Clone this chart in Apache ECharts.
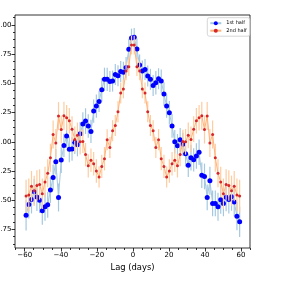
<!DOCTYPE html>
<html><head><meta charset="utf-8">
<script src="https://cdn.jsdelivr.net/npm/echarts@6/dist/echarts.min.js"></script>
<style>html,body{margin:0;padding:0;background:#fff}#c{width:281px;height:282px}</style>
</head><body><div id="c"></div>
<script>
const lags = [
 -59.25,-57.75,-56.25,-54.75,-53.25,-51.75,-50.25,-48.75,-47.25,-45.75,
 -44.25,-42.75,-41.25,-39.75,-38.25,-36.75,-35.25,-33.75,-32.25,-30.75,
 -29.25,-27.75,-26.25,-24.75,-23.25,-21.75,-20.25,-18.75,-17.25,-15.75,
 -14.25,-12.75,-11.25,-9.75,-8.25,-6.75,-5.25,-3.75,-2.25,-0.75,
 0.75,2.25,3.75,5.25,6.75,8.25,9.75,11.25,12.75,14.25,
 15.75,17.25,18.75,20.25,21.75,23.25,24.75,26.25,27.75,29.25,
 30.75,32.25,33.75,35.25,36.75,38.25,39.75,41.25,42.75,44.25,
 45.75,47.25,48.75,50.25,51.75,53.25,54.75,56.25,57.75,59.25];
const firstHalf = [
 -0.63,-0.537,-0.494,-0.428,-0.474,-0.50,-0.591,-0.557,-0.54,-0.414,
 -0.305,-0.171,-0.477,-0.157,-0.031,0.049,-0.065,-0.062,-0.005,-0.025,
 0.069,0.152,0.177,0.135,0.089,0.263,0.306,0.346,0.446,0.535,
 0.535,0.517,0.52,0.577,0.566,0.603,0.595,0.637,0.792,0.889,
 0.895,0.794,0.657,0.606,0.62,0.563,0.535,0.483,0.506,0.54,
 0.52,0.409,0.306,0.249,0.135,0.0,-0.034,0.017,-0.022,-0.102,
 -0.202,-0.136,-0.155,-0.122,-0.09,-0.287,-0.297,-0.477,-0.334,-0.528,
 -0.528,-0.557,-0.497,-0.528,-0.476,-0.494,-0.471,-0.517,-0.637,-0.686];
const firstHalfErr = [
 0.13,0.12,0.12,0.11,0.12,0.11,0.12,0.12,0.11,0.11,
 0.11,0.11,0.12,0.11,0.10,0.10,0.11,0.10,0.10,0.10,
 0.10,0.10,0.11,0.10,0.10,0.10,0.10,0.09,0.10,0.10,
 0.10,0.09,0.09,0.09,0.09,0.09,0.09,0.09,0.09,0.08,
 0.08,0.09,0.09,0.09,0.09,0.09,0.09,0.09,0.10,0.09,
 0.10,0.10,0.10,0.10,0.10,0.10,0.10,0.10,0.10,0.11,
 0.10,0.11,0.10,0.11,0.11,0.11,0.11,0.11,0.12,0.11,
 0.11,0.12,0.12,0.11,0.12,0.12,0.12,0.12,0.12,0.13];
const secondHalf = [
 -0.465,-0.455,-0.38,-0.42,-0.375,-0.366,-0.445,-0.345,-0.27,-0.137,
 0.063,-0.01,0.22,0.105,0.222,0.206,0.18,0.108,0.02,0.055,
 0.0,0.003,-0.11,-0.206,-0.158,-0.188,-0.25,-0.302,-0.211,-0.145,
 0.018,-0.05,0.095,0.14,0.257,0.417,0.453,0.606,0.643,0.828,
 0.828,0.643,0.606,0.453,0.417,0.257,0.14,0.095,-0.05,0.018,
 -0.145,-0.211,-0.302,-0.25,-0.188,-0.158,-0.206,-0.11,0.003,0.0,
 0.055,0.02,0.108,0.18,0.206,0.222,0.105,0.22,-0.01,0.063,
 -0.137,-0.27,-0.345,-0.445,-0.366,-0.375,-0.42,-0.38,-0.455,-0.465];
const secondHalfErr = [
 0.14,0.14,0.13,0.13,0.13,0.13,0.13,0.13,0.12,0.12,
 0.12,0.12,0.12,0.12,0.12,0.11,0.11,0.11,0.11,0.11,
 0.11,0.10,0.10,0.10,0.10,0.10,0.10,0.09,0.10,0.10,
 0.09,0.09,0.09,0.09,0.09,0.09,0.08,0.08,0.08,0.08,
 0.08,0.08,0.08,0.08,0.09,0.09,0.09,0.09,0.09,0.09,
 0.10,0.10,0.09,0.10,0.10,0.10,0.10,0.10,0.10,0.11,
 0.11,0.11,0.11,0.11,0.11,0.12,0.12,0.12,0.12,0.12,
 0.12,0.12,0.13,0.13,0.13,0.13,0.13,0.13,0.14,0.14];
const seriesNames = ['1st half', '2nd half'];
const xAxisTitle = 'Lag (days)';
const xMajorTicks = [-60,-40,-20,0,20,40,60];
const xMinorTicks = [-65,-55,-50,-45,-35,-30,-25,-15,-10,-5,5,10,15,25,30,35,45,50,55,65];
const yMajorTicks = [-0.75,-0.5,-0.25,0,0.25,0.5,0.75,1.0];
const yMinorTicks = [-0.875,-0.8125,-0.6875,-0.625,-0.5625,-0.4375,-0.375,-0.3125,-0.1875,-0.125,-0.0625,
  0.0625,0.125,0.1875,0.3125,0.375,0.4375,0.5625,0.625,0.6875,0.8125,0.875,0.9375,1.0625];

const X_MIN = -65.4, X_MAX = 65.0, Y_MIN = -0.91, Y_MAX = 1.086;
const FONT = 'DejaVu Sans';
const gridBox = {left: 15, right: 31, top: 15, bottom: 34, outerBoundsMode: 'none', containLabel: false};
const fmtX = v => (v < 0 ? '\u2212' : '') + Math.abs(v);
const fmtY = v => (v < 0 ? '\u2212' : '') + Math.abs(v).toFixed(2);

const errData = (vals, errs) => lags.map((x, i) => [x, vals[i] - errs[i], vals[i] + errs[i]]);
const errRender = color => (params, api) => {
  const p1 = api.coord([api.value(0), api.value(1)]);
  const p2 = api.coord([api.value(0), api.value(2)]);
  return {type: 'line', shape: {x1: p1[0], y1: p1[1], x2: p2[0], y2: p2[1]},
          style: {stroke: color, lineWidth: 1.2}};
};

const chart = echarts.init(document.getElementById('c'), null, {renderer: 'canvas'});
const tickLine = {color: '#000', width: 0.8};
chart.setOption({
  animation: false,
  backgroundColor: '#fff',
  grid: [
    Object.assign({show: true, borderColor: '#000', borderWidth: 0.8, backgroundColor: 'transparent'}, gridBox),
    Object.assign({show: false}, gridBox)
  ],
  legend: {
    data: seriesNames, orient: 'vertical', left: 207.3, top: 17.7,
    itemWidth: 11, itemHeight: 5, itemGap: 2.5, padding: [3, 3, 3, 2],
    textStyle: {fontSize: 5, fontFamily: FONT, color: '#000'},
    borderColor: '#ccc', borderWidth: 0.8, borderRadius: 2, backgroundColor: 'rgba(255,255,255,0.8)'
  },
  xAxis: [
    {gridIndex: 0, type: 'value', min: X_MIN, max: X_MAX, position: 'bottom',
     axisLine: {show: false, onZero: false},
     axisTick: {show: true, customValues: xMajorTicks, length: 3.5, lineStyle: tickLine},
     axisLabel: {customValues: xMajorTicks, formatter: fmtX, fontSize: 7, fontFamily: FONT, color: '#000', margin: 3.5},
     splitLine: {show: false},
     name: xAxisTitle, nameLocation: 'middle', nameGap: 12,
     nameTextStyle: {fontSize: 8.4, fontFamily: FONT, color: '#000'}},
    {gridIndex: 1, type: 'value', min: X_MIN, max: X_MAX, position: 'bottom',
     axisLine: {show: false, onZero: false},
     axisTick: {show: true, customValues: xMinorTicks, length: 2, lineStyle: tickLine},
     axisLabel: {show: false}, splitLine: {show: false}}
  ],
  yAxis: [
    {gridIndex: 0, type: 'value', min: Y_MIN, max: Y_MAX, position: 'left',
     axisLine: {show: false, onZero: false},
     axisTick: {show: true, customValues: yMajorTicks, length: 3.5, lineStyle: tickLine},
     axisLabel: {customValues: yMajorTicks, formatter: fmtY, fontSize: 7, fontFamily: FONT, color: '#000', margin: 3.5},
     splitLine: {show: false}},
    {gridIndex: 1, type: 'value', min: Y_MIN, max: Y_MAX, position: 'left',
     axisLine: {show: false, onZero: false},
     axisTick: {show: true, customValues: yMinorTicks, length: 2, lineStyle: tickLine},
     axisLabel: {show: false}, splitLine: {show: false}}
  ],
  series: [
    {type: 'custom', name: 'err1', xAxisIndex: 0, yAxisIndex: 0, z: 1, silent: true,
     data: errData(firstHalf, firstHalfErr), encode: {x: 0, y: [1, 2]},
     renderItem: errRender('#a5c8e1')},
    {type: 'line', name: seriesNames[0], xAxisIndex: 0, yAxisIndex: 0, z: 2,
     data: lags.map((x, i) => [x, firstHalf[i]]),
     symbol: 'circle', symbolSize: 5, showSymbol: true,
     itemStyle: {color: '#0000ff'}, lineStyle: {color: '#a5c8e1', width: 1}},
    {type: 'custom', name: 'err2', xAxisIndex: 0, yAxisIndex: 0, z: 3, silent: true,
     data: errData(secondHalf, secondHalfErr), encode: {x: 0, y: [1, 2]},
     renderItem: errRender('#ffcc9f')},
    {type: 'line', name: seriesNames[1], xAxisIndex: 0, yAxisIndex: 0, z: 4,
     data: lags.map((x, i) => [x, secondHalf[i]]),
     symbol: 'circle', symbolSize: 3, showSymbol: true,
     itemStyle: {color: '#d62728'}, lineStyle: {color: '#ffb27a', width: 1}}
  ]
});
</script></body></html>
